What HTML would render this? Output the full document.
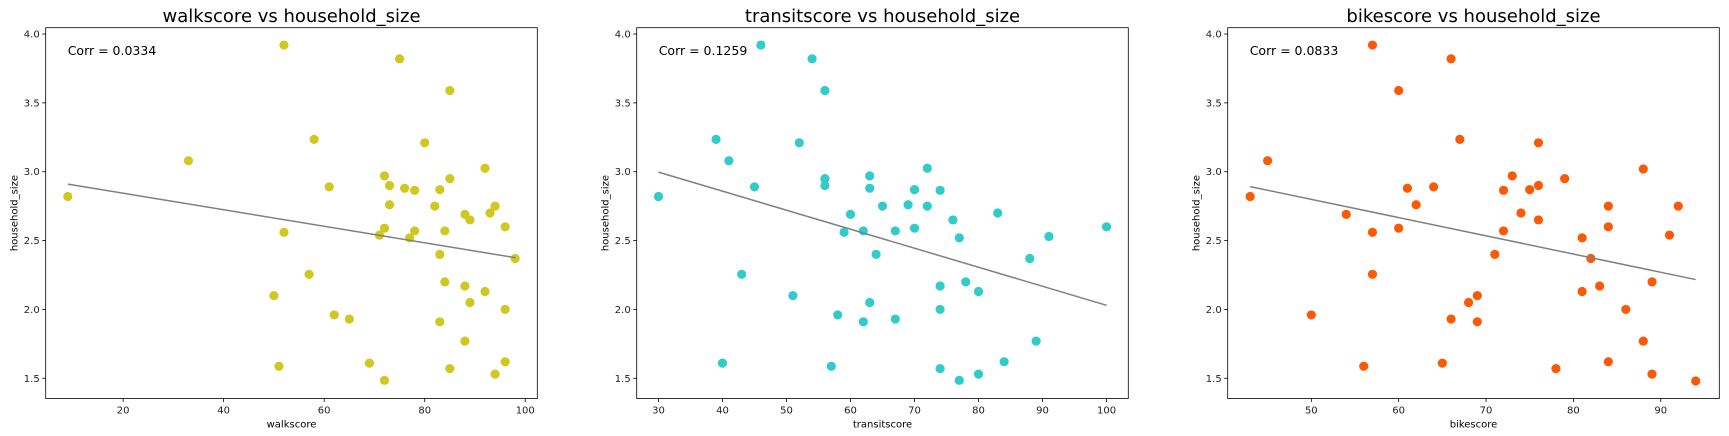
<!DOCTYPE html>
<html><head><meta charset="utf-8"><style>
html,body{margin:0;padding:0;background:#fff;}
svg{display:block;font-family:"DejaVu Sans","Liberation Sans",sans-serif;}
</style></head><body>
<svg id="chart" width="1729" height="436" viewBox="0 0 1729 436"></svg>
<script>
const yTicks=[1.5,2.0,2.5,3.0,3.5,4.0];
const walkX=[9,52,33,58,61,52,57,50,51,62,65,75,85,80,72,73,76,78,85,83,92,73,82,94,93,88,89,72,71,77,78,84,83,84,88,92,89,83,88,69,72,85,94,96,96,98,96];
const walkY=[2.82,3.92,3.08,3.235,2.89,2.56,2.255,2.10,1.587,1.96,1.93,3.82,3.59,3.21,2.97,2.90,2.88,2.865,2.95,2.87,3.025,2.76,2.75,2.75,2.70,2.69,2.65,2.59,2.54,2.52,2.57,2.57,2.40,2.20,2.17,2.13,2.05,1.91,1.77,1.61,1.485,1.57,1.53,2.0,2.6,2.37,1.62];
const walkTicks=[20,40,60,80,100];
const transitX=[30,46,54,56,39,52,41,45,56,56,63,63,72,70,74,65,69,72,60,83,76,59,62,67,70,77,64,88,43,51,74,78,80,63,58,62,67,74,40,57,74,77,80,84,89,91,100];
const transitY=[2.82,3.92,3.82,3.59,3.235,3.21,3.08,2.89,2.95,2.90,2.97,2.88,3.025,2.87,2.865,2.75,2.76,2.75,2.69,2.70,2.65,2.56,2.57,2.57,2.59,2.52,2.40,2.37,2.255,2.10,2.17,2.20,2.13,2.05,1.96,1.91,1.93,2.00,1.61,1.587,1.57,1.485,1.53,1.62,1.77,2.53,2.6];
const transitTicks=[30,40,50,60,70,80,90,100];
const bikeX=[43,45,57,66,60,67,76,61,64,62,54,57,60,73,72,75,76,79,74,76,72,71,57,50,68,69,66,69,56,65,78,88,84,84,92,91,81,82,81,83,89,86,88,84,89,94];
const bikeY=[2.82,3.08,3.92,3.82,3.59,3.235,3.21,2.88,2.89,2.76,2.69,2.56,2.59,2.97,2.865,2.87,2.90,2.95,2.70,2.65,2.57,2.40,2.255,1.96,2.05,2.10,1.93,1.91,1.587,1.61,1.57,3.02,2.75,2.6,2.75,2.54,2.52,2.37,2.13,2.17,2.2,2.0,1.77,1.62,1.53,1.48];
const bikeTicks=[50,60,70,80,90];
const panels=[
 {name:'walkscore',xs:walkX,ys:walkY,ticks:walkTicks,corr:'0.0334',color:'#d0c820',left:45.7,xmin:4.6,xmax:102.4},
 {name:'transitscore',xs:transitX,ys:transitY,ticks:transitTicks,corr:'0.1259',color:'#31cbc9',left:636.7,xmin:26.6,xmax:103.4},
 {name:'bikescore',xs:bikeX,ys:bikeY,ticks:bikeTicks,corr:'0.0833',color:'#fa5a05',left:1227.7,xmin:40.43,xmax:96.7}
];
const W=491.6,TOP=27.7,BOT=398.5,YMIN=1.353,YMAX=4.046;
const NS='http://www.w3.org/2000/svg';
const svg=document.getElementById('chart');
function mk(tag,attrs,parent,text){const e=document.createElementNS(NS,tag);for(const k in attrs)e.setAttribute(k,attrs[k]);if(text!==undefined)e.textContent=text;parent.appendChild(e);return e;}
panels.forEach(p=>{
 const g=mk('g',{},svg);
 
 
 const sx=v=>p.left+(v-p.xmin)/(p.xmax-p.xmin)*W;
 const sy=v=>BOT-(v-YMIN)/(YMAX-YMIN)*(BOT-TOP);
 const t=mk('text',{x:p.left+W/2,y:22,'text-anchor':'middle','font-size':'18','fill':'#000'},g,p.name+' vs household_size');
 
 
 // ticks
 p.ticks.forEach(v=>{
  mk('line',{x1:sx(v),x2:sx(v),y1:BOT,y2:BOT+3.5,stroke:'#000','stroke-width':0.8},g);
  const tl=mk('text',{x:sx(v),y:BOT+15,'text-anchor':'middle','font-size':'10','fill':'#222'},g,String(v));
  
  
 });
 yTicks.forEach(v=>{
  mk('line',{x1:p.left-3.5,x2:p.left,y1:sy(v),y2:sy(v),stroke:'#000','stroke-width':0.8},g);
  const tl=mk('text',{x:p.left-6,y:sy(v)+3.5,'text-anchor':'end','font-size':'10','fill':'#222'},g,v.toFixed(1));
  
  
 });
 const xl=mk('text',{x:p.left+W/2,y:BOT+29,'text-anchor':'middle','font-size':'10','fill':'#000'},g,p.name);
 
 
 const yl=mk('text',{x:0,y:0,'text-anchor':'middle','font-size':'10','fill':'#000',transform:`translate(${p.left-28},${(TOP+BOT)/2}) rotate(-90)`},g,'household_size');
 
 
 // points
 const n=Math.min(p.xs.length,p.ys.length);
 for(let i=0;i<n;i++){
  const c=mk('circle',{cx:sx(p.xs[i]),cy:sy(p.ys[i]),r:4.6,fill:p.color},g);
  
  
 }
 // regression line
 let mx=0,my=0;for(let i=0;i<n;i++){mx+=p.xs[i];my+=p.ys[i];}mx/=n;my/=n;
 let sxy=0,sxx=0;for(let i=0;i<n;i++){sxy+=(p.xs[i]-mx)*(p.ys[i]-my);sxx+=(p.xs[i]-mx)**2;}
 const b=sxy/sxx,a=my-b*mx;
 const x0=Math.min(...p.xs),x1=Math.max(...p.xs);
 const ln=mk('line',{x1:sx(x0),y1:sy(a+b*x0),x2:sx(x1),y2:sy(a+b*x1),stroke:'#808080','stroke-width':1.5},g);
 
 
 const ct=mk('text',{x:p.left+22,y:55,'font-size':'12.5','fill':'#000'},g,'Corr = '+p.corr);
 
 
 const fr=mk('rect',{x:p.left,y:TOP,width:W,height:BOT-TOP,fill:'none',stroke:'#000','stroke-width':0.8},g);
 
 
});
</script>
</body></html>
